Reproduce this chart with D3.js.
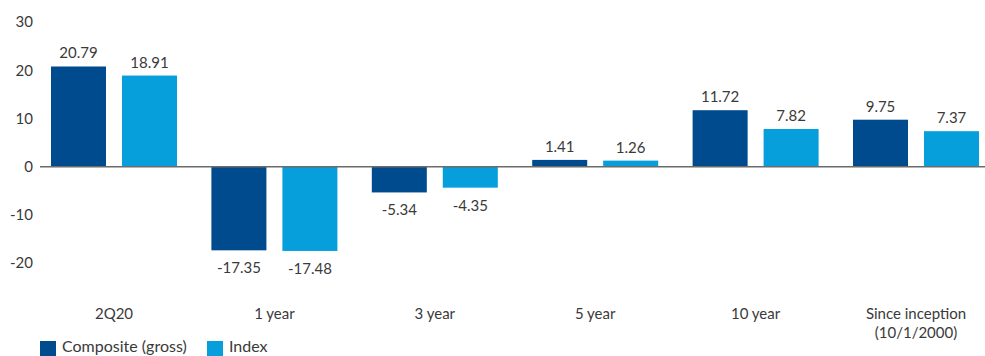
<!DOCTYPE html>
<html>
<head>
<meta charset="utf-8">
<script src="https://cdn.jsdelivr.net/npm/d3@7"></script>
<style>
  html, body { margin: 0; padding: 0; background: #fff; }
  svg { display: block; font-family: Lato, "Open Sans", sans-serif; }
</style>
</head>
<body>
<svg id="chart" width="985" height="356"></svg>
<script>
const categories = [["2Q20"], ["1 year"], ["3 year"], ["5 year"], ["10 year"], ["Since inception", "(10/1/2000)"]];
const seriesNames = ["Composite (gross)", "Index"];
const composite = [20.79, -17.35, -5.34, 1.41, 11.72, 9.75];
const index = [18.91, -17.48, -4.35, 1.26, 7.82, 7.37];
const yTicks = [-20, -10, 0, 10, 20, 30];
const colors = ["#004a8e", "#069fdb"];

const svg = d3.select("#chart");
const catKeys = categories.map(c => c.join(" "));
const seriesValues = [composite, index];

const x = d3.scaleBand().domain(catKeys).range([33.8, 996.2]).paddingInner(0.2145).paddingOuter(0.1072);
const xs = d3.scaleBand().domain(seriesNames).range([0, x.bandwidth()]).paddingInner(0.225);
const y = d3.scaleLinear().domain([-20, 30]).range([263.1, 22.1]);

// y tick labels
svg.append("g").selectAll("text").data(yTicks).join("text")
  .attr("x", 33).attr("y", d => y(d)).attr("dy", "0.35em")
  .attr("text-anchor", "end").attr("font-size", 15).attr("fill", "#3a3a3a")
  .text(d => d);

// bars
const groups = svg.append("g").selectAll("g").data(catKeys).join("g")
  .attr("transform", d => `translate(${x(d)},0)`);

groups.selectAll("rect").data((d, i) => seriesNames.map((s, j) => ({s, v: seriesValues[j][i], j})))
  .join("rect")
  .attr("x", d => xs(d.s)).attr("width", xs.bandwidth())
  .attr("y", d => y(Math.max(0, d.v)))
  .attr("height", d => Math.abs(y(d.v) - y(0)))
  .attr("fill", d => colors[d.j]);

groups.selectAll("text.val").data((d, i) => seriesNames.map((s, j) => ({s, v: seriesValues[j][i], j})))
  .join("text").attr("class", "val")
  .attr("x", d => xs(d.s) + xs.bandwidth() / 2)
  .attr("y", d => d.v >= 0 ? y(d.v) - 8 : y(d.v) + 23)
  .attr("text-anchor", "middle").attr("font-size", 15).attr("fill", "#3a3a3a")
  .text(d => d.v.toFixed(2));

// zero line
svg.append("line").attr("x1", 40).attr("x2", 985).attr("y1", y(0)).attr("y2", y(0))
  .attr("stroke", "#6b6b6b").attr("stroke-width", 1.6);

// category labels
svg.append("g").selectAll("text").data(categories).join("text")
  .attr("x", (d, i) => x(catKeys[i]) + x.bandwidth() / 2)
  .attr("y", 319)
  .attr("text-anchor", "middle").attr("font-size", 15).attr("fill", "#3a3a3a")
  .each(function(d) {
    const t = d3.select(this);
    d.forEach((line, k) => {
      t.append("tspan").attr("x", t.attr("x")).attr("dy", k === 0 ? 0 : 19).text(line);
    });
  });

// legend
const legendX = [40, 207];
const lg = svg.append("g").selectAll("g").data(seriesNames).join("g")
  .attr("transform", (d, i) => `translate(${legendX[i]},341)`);
lg.append("rect").attr("width", 16).attr("height", 15).attr("fill", (d, i) => colors[i]);
lg.append("text").attr("x", 22).attr("y", 10.8).attr("font-size", 16).attr("fill", "#3a3a3a").text(d => d);
</script>
</body>
</html>
